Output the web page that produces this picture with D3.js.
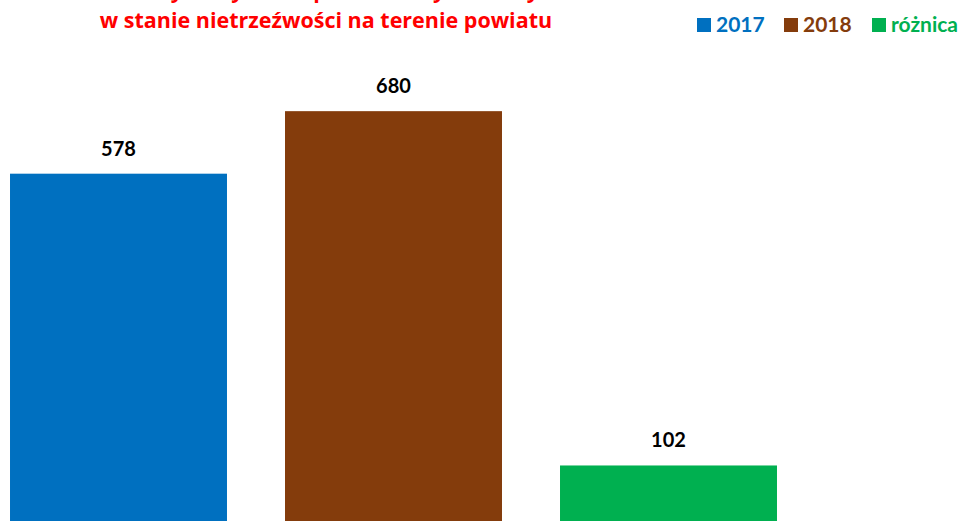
<!DOCTYPE html>
<html>
<head>
<meta charset="utf-8">
<script src="https://cdn.jsdelivr.net/npm/d3@7"></script>
<style>
  body { margin: 0; background: #fff; }
  svg { display: block; font-family: Lato, "Open Sans", sans-serif; font-weight: bold; }
</style>
</head>
<body>
<svg id="chart" width="966" height="521"></svg>
<script>
const categories = ['2017', '2018', 'różnica'];
const values = [578, 680, 102];
const colors = ['#0070C0', '#843C0C', '#00B050'];
const titleLines = [
  'Liczba osób zatrzymanych i doprowadzonych do wytrzeźwienia',
  'w stanie nietrzeźwości na terenie powiatu'
];

const width = 966;
const height = 521;

const svg = d3.select('#chart');

const xScale = d3.scaleBand()
  .domain(categories)
  .range([-19, 806])
  .paddingInner(0.211)
  .paddingOuter(0.1055);

const yScale = d3.scaleLinear()
  .domain([0, 700])
  .range([528, 528 - 700 * 0.613]);

const colorScale = d3.scaleOrdinal().domain(categories).range(colors);

// bars
svg.selectAll('.bar')
  .data(categories)
  .enter().append('rect')
  .attr('class', 'bar')
  .attr('x', d => xScale(d))
  .attr('y', (d, i) => yScale(values[i]))
  .attr('width', xScale.bandwidth())
  .attr('height', (d, i) => yScale(0) - yScale(values[i]))
  .attr('fill', d => colorScale(d));

// value labels
svg.selectAll('.label')
  .data(categories)
  .enter().append('text')
  .attr('class', 'label')
  .attr('x', d => xScale(d) + xScale.bandwidth() / 2)
  .attr('y', (d, i) => yScale(values[i]) - 18)
  .attr('text-anchor', 'middle')
  .style('font-size', '20px')
  .attr('fill', '#000')
  .text((d, i) => values[i]);

// title (first line runs off the top edge, as in the original)
svg.selectAll('.title')
  .data(titleLines)
  .enter().append('text')
  .attr('class', 'title')
  .attr('x', 326)
  .attr('y', (d, i) => -2 + i * 30)
  .attr('text-anchor', 'middle')
  .style('font-family', '"Open Sans", sans-serif')
  .style('font-size', '21.5px')
  .attr('fill', '#FF0000')
  .text(d => d);

// legend
const legendX = [697, 784, 872];
const legend = svg.selectAll('.legend-item')
  .data(categories)
  .enter().append('g')
  .attr('class', 'legend-item')
  .attr('transform', (d, i) => `translate(${legendX[i]}, 18)`);

legend.append('rect')
  .attr('width', 14)
  .attr('height', 14)
  .attr('fill', d => colorScale(d));

legend.append('text')
  .attr('x', 19)
  .attr('y', 14)
  .style('font-size', '21px')
  .attr('fill', d => colorScale(d))
  .text(d => d);
</script>
</body>
</html>
